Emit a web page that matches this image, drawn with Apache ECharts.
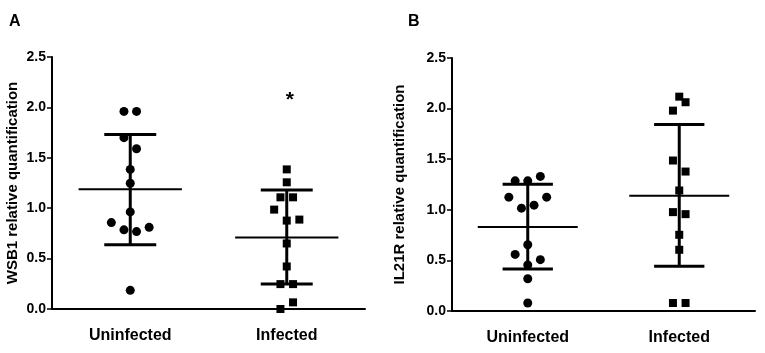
<!DOCTYPE html>
<html>
<head>
<meta charset="utf-8">
<script src="https://cdn.jsdelivr.net/npm/echarts@6/dist/echarts.min.js"></script>
<style>
  html, body { margin: 0; padding: 0; background: #fff; }
  #chart { width: 765px; height: 353px; }
</style>
</head>
<body>
<div id="chart"></div>
<script>
// groups on the x axis
const categories = ['Uninfected', 'Infected'];
const yTicks = [0, 0.5, 1.0, 1.5, 2.0, 2.5];

// panel A: WSB1
const wsb1Uninfected = [1.96, 1.96, 1.70, 1.59, 1.385, 1.247, 0.963, 0.857, 0.785, 0.768, 0.81, 0.185];
const wsb1UninfectedSlot = [-1, 1, -1, 1, 0, 0, 0, -3, -1, 1, 3, 0];
const wsb1Infected = [1.385, 1.257, 1.108, 1.108, 0.986, 0.877, 0.887, 0.65, 0.422, 0.247, 0.247, 0.066, 0.0];
const wsb1InfectedSlot = [0, 0, -1, 1, -2, 0, 2, 0, 0, -1, 1, 1, -1];
// mean, mean - SD, mean + SD per group
const wsb1Mean = [1.187, 0.709];
const wsb1Low = [0.637, 0.247];
const wsb1High = [1.731, 1.18];
const wsb1Star = 2.12;

// panel B: IL21R
const il21rUninfected = [1.286, 1.286, 1.33, 1.125, 1.125, 1.016, 1.046, 0.655, 0.559, 0.507, 0.454, 0.319, 0.079];
const il21rUninfectedSlot = [-2, 0, 2, -3, 3, -1, 1, 0, -2, 2, 0, 0, 0];
const il21rInfected = [2.118, 2.063, 1.98, 1.487, 1.378, 1.191, 0.977, 0.957, 0.753, 0.605, 0.079, 0.079];
const il21rInfectedSlot = [0, 1, -1, -1, 1, 0, -1, 1, 0, 0, -1, 1];
const il21rMean = [0.829, 1.138];
const il21rLow = [0.414, 0.441];
const il21rHigh = [1.253, 1.842];

const FONT = '"Liberation Sans", Arial, sans-serif';
const SLOT = 6.3; // px between neighbouring points in a column

const chart = echarts.init(document.getElementById('chart'));

function dots(cat, values, slots) {
  return values.map((v, i) => ({ value: [cat, v], symbolOffset: [slots[i] * SLOT, 0] }));
}

function xAxisOf(grid) {
  return {
    type: 'category',
    gridIndex: grid,
    data: categories,
    boundaryGap: true,
    axisLine: { lineStyle: { color: '#000', width: 2 } },
    axisTick: { alignWithLabel: true, length: 5, lineStyle: { color: '#000', width: 2 } },
    axisLabel: { color: '#000', fontFamily: FONT, fontWeight: 'bold', fontSize: 16, margin: 19 },
    splitLine: { show: false }
  };
}

function yAxisOf(grid, name, gap) {
  return {
    type: 'value',
    gridIndex: grid,
    min: yTicks[0],
    max: yTicks[yTicks.length - 1],
    interval: 0.5,
    name: name,
    nameLocation: 'middle',
    nameGap: gap,
    nameTextStyle: { color: '#000', fontFamily: FONT, fontWeight: 'bold', fontSize: 15 },
    axisLine: { show: true, lineStyle: { color: '#000', width: 2 } },
    axisTick: { show: true, length: 5, lineStyle: { color: '#000', width: 1.5 } },
    axisLabel: {
      color: '#000', fontFamily: FONT, fontWeight: 'bold', fontSize: 14, margin: 6,
      formatter: (v) => v.toFixed(1)
    },
    splitLine: { show: false }
  };
}

// mean line + SD whiskers with caps
function meanSd(grid, mean, low, high) {
  return {
    type: 'custom',
    xAxisIndex: grid,
    yAxisIndex: grid,
    z: 3,
    data: mean.map((m, i) => [i, m, low[i], high[i]]),
    renderItem: (params, api) => {
      const x = api.value(0);
      const band = api.size([1, 0])[0];
      const mid = api.coord([x, api.value(1)]);
      const lo = api.coord([x, api.value(2)]);
      const hi = api.coord([x, api.value(3)]);
      const cx = mid[0];
      const mw = band * 0.33;
      const cw = band * 0.166;
      const st = { stroke: '#000', lineWidth: 3 };
      return {
        type: 'group',
        children: [
          { type: 'line', shape: { x1: cx - mw, y1: mid[1], x2: cx + mw, y2: mid[1] }, style: { stroke: '#000', lineWidth: 2 } },
          { type: 'line', shape: { x1: cx, y1: hi[1], x2: cx, y2: lo[1] }, style: st },
          { type: 'line', shape: { x1: cx - cw, y1: hi[1], x2: cx + cw, y2: hi[1] }, style: st },
          { type: 'line', shape: { x1: cx - cw, y1: lo[1], x2: cx + cw, y2: lo[1] }, style: st }
        ]
      };
    }
  };
}

function scatter(grid, data, symbol, size) {
  return {
    type: 'scatter',
    xAxisIndex: grid,
    yAxisIndex: grid,
    symbol: symbol,
    symbolSize: size,
    z: 4,
    itemStyle: { color: '#000', opacity: 1 },
    data: data
  };
}

chart.setOption({
  animation: false,
  backgroundColor: '#fff',
  title: [
    { text: 'A', left: 4, top: 9, textStyle: { color: '#000', fontFamily: FONT, fontWeight: 'bold', fontSize: 16 } },
    { text: 'B', left: 403, top: 9, textStyle: { color: '#000', fontFamily: FONT, fontWeight: 'bold', fontSize: 16 } }
  ],
  grid: [
    { left: 52, width: 313, top: 57, height: 252 },
    { left: 452, width: 303, top: 58, height: 253 }
  ],
  xAxis: [xAxisOf(0), xAxisOf(1)],
  yAxis: [
    yAxisOf(0, 'WSB1 relative quantification', 32),
    yAxisOf(1, 'IL21R relative quantification', 45)
  ],
  series: [
    meanSd(0, wsb1Mean, wsb1Low, wsb1High),
    scatter(0, dots(0, wsb1Uninfected, wsb1UninfectedSlot), 'circle', 9),
    scatter(0, dots(1, wsb1Infected, wsb1InfectedSlot), 'rect', 8),
    {
      // significance mark above the infected column
      type: 'scatter',
      xAxisIndex: 0,
      yAxisIndex: 0,
      symbol: 'circle',
      symbolSize: 0,
      z: 5,
      itemStyle: { color: 'rgba(0,0,0,0)' },
      label: {
        show: true, position: 'inside', formatter: '*', offset: [3, 5],
        color: '#000', opacity: 1, fontFamily: FONT, fontWeight: 'bold', fontSize: 21
      },
      data: [[1, wsb1Star]]
    },
    meanSd(1, il21rMean, il21rLow, il21rHigh),
    scatter(1, dots(0, il21rUninfected, il21rUninfectedSlot), 'circle', 9),
    scatter(1, dots(1, il21rInfected, il21rInfectedSlot), 'rect', 8)
  ]
});
</script>
</body>
</html>
